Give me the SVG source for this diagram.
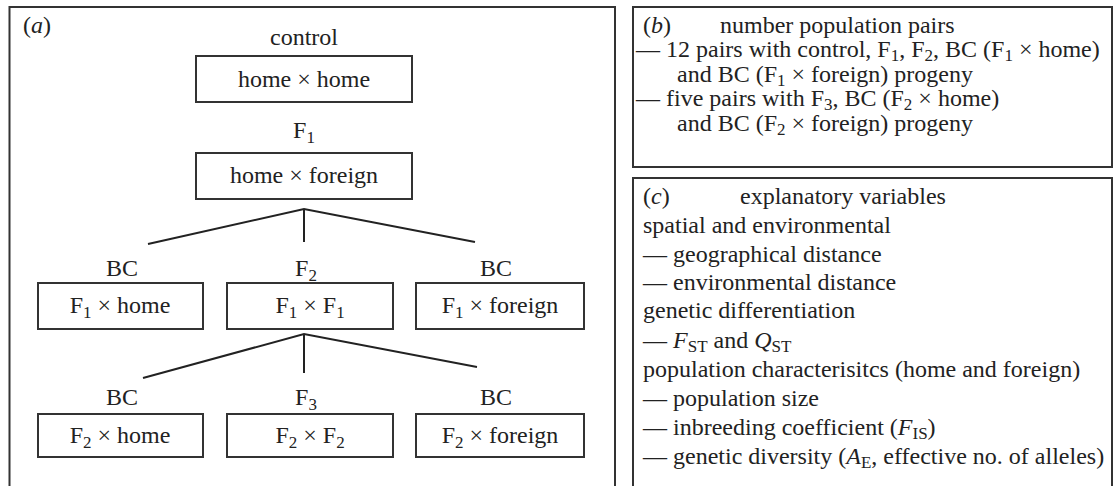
<svg xmlns="http://www.w3.org/2000/svg" width="1113" height="486" viewBox="0 0 1113 486">
<style>
text{font-family:"Liberation Serif","Times New Roman",serif;font-size:24px;fill:#222}
.c{text-anchor:middle}
.i{font-style:italic}
.s{font-size:17px}
.box{fill:#fff;stroke:#333;stroke-width:2}
.frame{fill:none;stroke:#333;stroke-width:2}
.con{fill:none;stroke:#222;stroke-width:2}
</style>
<rect width="1113" height="486" fill="#fff"/>
<g id="panel-a">
<rect class="frame" x="9.5" y="7" width="605.5" height="495"/>
<text x="23" y="33">(<tspan class="i">a</tspan>)</text>
</g>
<g id="connectors">
<polyline class="con" points="148,244 304,209 475,242"/>
<line class="con" x1="304" y1="209" x2="304" y2="242"/>
<polyline class="con" points="143,378 304,334 477,367"/>
<line class="con" x1="304" y1="334" x2="304" y2="373"/>
</g>
<g id="node-control">
<text class="c" x="304" y="45">control</text>
<rect class="box" x="196" y="56" width="216" height="46"/>
<text class="c" x="304" y="87">home × home</text>
</g>
<g id="node-f1">
<text class="c" x="304" y="138">F<tspan class="s" dy="5">1</tspan></text>
<rect class="box" x="196" y="153" width="216" height="46"/>
<text class="c" x="304" y="183">home × foreign</text>
</g>
<g id="node-bc1-home">
<text class="c" x="122" y="276">BC</text>
<rect class="box" x="38" y="283" width="165" height="46"/>
<text class="c" x="120" y="313">F<tspan class="s" dy="5">1</tspan><tspan dy="-5"> × home</tspan></text>
</g>
<g id="node-f2">
<text class="c" x="306" y="276">F<tspan class="s" dy="5">2</tspan></text>
<rect class="box" x="227" y="283" width="166" height="46"/>
<text class="c" x="310" y="313">F<tspan class="s" dy="5">1</tspan><tspan dy="-5"> × F</tspan><tspan class="s" dy="5">1</tspan></text>
</g>
<g id="node-bc1-foreign">
<text class="c" x="496" y="276">BC</text>
<rect class="box" x="416" y="283" width="168" height="46"/>
<text class="c" x="500" y="313">F<tspan class="s" dy="5">1</tspan><tspan dy="-5"> × foreign</tspan></text>
</g>
<g id="node-bc2-home">
<text class="c" x="122" y="405">BC</text>
<rect class="box" x="38" y="414" width="165" height="43"/>
<text class="c" x="120" y="443">F<tspan class="s" dy="5">2</tspan><tspan dy="-5"> × home</tspan></text>
</g>
<g id="node-f3">
<text class="c" x="306" y="405">F<tspan class="s" dy="5">3</tspan></text>
<rect class="box" x="227" y="414" width="166" height="43"/>
<text class="c" x="310" y="443">F<tspan class="s" dy="5">2</tspan><tspan dy="-5"> × F</tspan><tspan class="s" dy="5">2</tspan></text>
</g>
<g id="node-bc2-foreign">
<text class="c" x="496" y="405">BC</text>
<rect class="box" x="416" y="414" width="168" height="43"/>
<text class="c" x="500" y="443">F<tspan class="s" dy="5">2</tspan><tspan dy="-5"> × foreign</tspan></text>
</g>
<g id="panel-b">
<rect class="frame" x="633" y="7" width="479" height="160"/>
<text x="643" y="33">(<tspan class="i">b</tspan>)</text>
<text x="720" y="33">number population pairs</text>
<text x="636" y="57">— 12 pairs with control, F<tspan class="s" dy="4">1</tspan><tspan dy="-4">, F</tspan><tspan class="s" dy="4">2</tspan><tspan dy="-4">, BC (F</tspan><tspan class="s" dy="4">1</tspan><tspan dy="-4"> × home)</tspan></text>
<text x="677" y="82">and BC (F<tspan class="s" dy="4">1</tspan><tspan dy="-4"> × foreign) progeny</tspan></text>
<text x="636" y="106">— five pairs with F<tspan class="s" dy="4">3</tspan><tspan dy="-4">, BC (F</tspan><tspan class="s" dy="4">2</tspan><tspan dy="-4"> × home)</tspan></text>
<text x="677" y="131">and BC (F<tspan class="s" dy="4">2</tspan><tspan dy="-4"> × foreign) progeny</tspan></text>
</g>
<g id="panel-c">
<rect class="frame" x="633" y="178" width="479" height="320"/>
<text x="643" y="204">(<tspan class="i">c</tspan>)</text>
<text x="740" y="204">explanatory variables</text>
<text x="643" y="233">spatial and environmental</text>
<text x="643" y="262">— geographical distance</text>
<text x="643" y="290">— environmental distance</text>
<text x="643" y="318">genetic differentiation</text>
<text x="643" y="348">— <tspan class="i">F</tspan><tspan class="s" dy="4">ST</tspan><tspan dy="-4"> and </tspan><tspan class="i">Q</tspan><tspan class="s" dy="4">ST</tspan></text>
<text x="643" y="377">population characterisitcs (home and foreign)</text>
<text x="643" y="406">— population size</text>
<text x="643" y="435">— inbreeding coefficient (<tspan class="i">F</tspan><tspan class="s" dy="4">IS</tspan><tspan dy="-4">)</tspan></text>
<text x="643" y="464">— genetic diversity (<tspan class="i">A</tspan><tspan class="s" dy="4">E</tspan><tspan dy="-4">, effective no. of alleles)</tspan></text>
</g>
</svg>
